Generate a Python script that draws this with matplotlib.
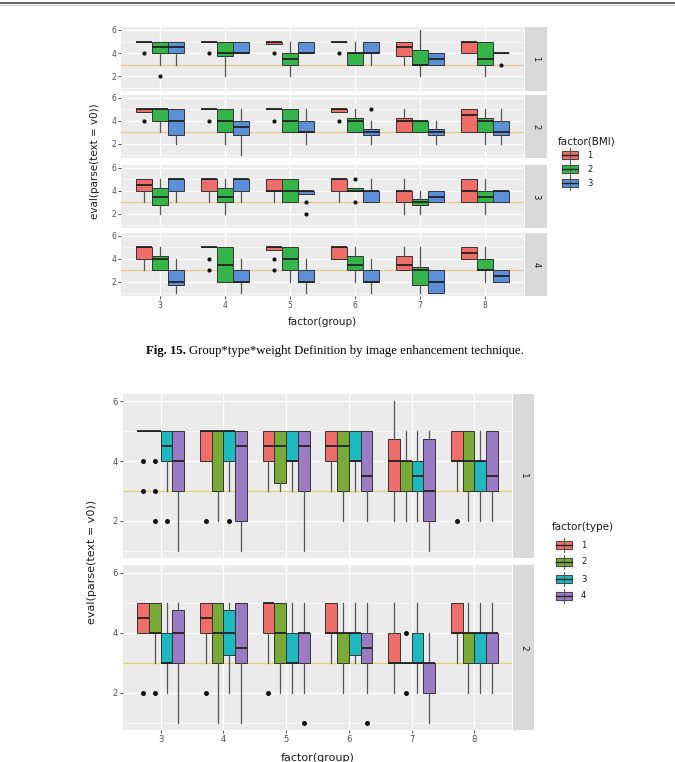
import matplotlib.pyplot as plt
from matplotlib.patches import Rectangle

W, H = 675, 762

groups = ['3', '4', '5', '6', '7', '8']
bmi_levels = ['1', '2', '3']
type_levels = ['1', '2', '3', '4']
bmi_colors = ['#EF6D68', '#35B44A', '#5B8FD8']
type_colors = ['#F06E69', '#79A936', '#1DB9BF', '#9A7BC4']

# one row per group, one tuple per level: (whislo, q1, med, q3, whishi, outliers)
bmi_facet1 = [
    [(5, 5, 5, 5, 5, [4]), (3, 4, 4.5, 5, 5, [2]), (3, 4, 4.5, 5, 5, [])],
    [(5, 5, 5, 5, 5, [4]), (2, 3.75, 4, 5, 5, []), (4, 4, 4, 5, 5, [])],
    [(4.75, 4.75, 5, 5, 5, [4]), (2, 3, 3.5, 4, 5, []), (4, 4, 4, 5, 5, [])],
    [(5, 5, 5, 5, 5, [4]), (3, 3, 4, 4, 5, []), (3, 4, 4, 5, 5, [])],
    [(3, 3.75, 4.5, 5, 5, []), (2, 3, 3, 4.25, 6, []), (3, 3, 3.5, 4, 4, [])],
    [(4, 4, 5, 5, 5, []), (2, 3, 3.5, 5, 5, []), (4, 4, 4, 4, 4, [3])],
]
bmi_facet2 = [
    [(4.75, 4.75, 5, 5, 5, [4]), (3, 4, 5, 5, 5, []), (2, 2.75, 4, 5, 5, [])],
    [(5, 5, 5, 5, 5, [4]), (2, 3, 4, 5, 5, []), (1, 2.75, 3.5, 4, 5, [])],
    [(5, 5, 5, 5, 5, [4]), (3, 3, 4, 5, 5, []), (2, 3, 3, 4, 5, [])],
    [(4.75, 4.75, 5, 5, 5, [4]), (3, 3, 4, 4.25, 5, []), (2, 2.75, 3, 3.25, 4, [5])],
    [(3, 3, 4, 4.25, 5, []), (3, 3, 4, 4, 4, []), (2, 2.75, 3, 3.25, 4, [])],
    [(3, 3, 4.5, 5, 5, []), (2, 3, 4, 4.25, 5, []), (2, 2.75, 3, 4, 5, [])],
]
bmi_facet3 = [
    [(3, 4, 4.5, 5, 5, []), (2, 2.75, 3.5, 4.25, 5, []), (3, 4, 5, 5, 5, [])],
    [(3, 4, 5, 5, 5, []), (2, 3, 3.5, 4.25, 5, []), (3, 4, 5, 5, 5, [])],
    [(3, 4, 4, 5, 5, []), (3, 3, 4, 5, 5, []), (3.75, 3.75, 4, 4, 4, [3, 2])],
    [(3, 4, 5, 5, 5, []), (4, 4, 4, 4.25, 4.25, [5, 3]), (3, 3, 4, 4, 5, [])],
    [(2, 3, 4, 4, 5, []), (2, 2.75, 3, 3.25, 4, []), (3, 3, 3.5, 4, 4, [])],
    [(3, 3, 4, 5, 5, []), (2, 3, 3.5, 4, 5, []), (3, 3, 4, 4, 4, [])],
]
bmi_facet4 = [
    [(3, 4, 5, 5, 5, []), (3, 3, 4, 4.25, 5, []), (1, 1.75, 2, 3, 4, [])],
    [(5, 5, 5, 5, 5, [4, 3]), (2, 2, 3.5, 5, 5, []), (1, 2, 2, 3, 4, [])],
    [(4.75, 4.75, 5, 5, 5, [4, 3]), (2, 3, 4, 5, 5, []), (1, 2, 2, 3, 4, [])],
    [(4, 4, 5, 5, 5, []), (2, 3, 3.5, 4.25, 5, []), (1, 2, 2, 3, 4, [])],
    [(3, 3, 3.5, 4.25, 5, []), (1, 1.75, 3, 3.25, 5, []), (1, 1, 2, 3, 3, [])],
    [(4, 4, 4.5, 5, 5, []), (2, 3, 3, 4, 5, []), (2, 2, 2.5, 3, 3, [])],
]
type_facet1 = [
    [(5, 5, 5, 5, 5, [4, 3]), (5, 5, 5, 5, 5, [4, 3, 2]), (3, 4, 4.5, 5, 5, [2]), (1, 3, 4, 5, 5, [])],
    [(4, 4, 5, 5, 5, [2]), (2, 3, 5, 5, 5, []), (3, 4, 5, 5, 5, [2]), (1, 2, 4.5, 5, 5, [])],
    [(3, 4, 4.5, 5, 5, []), (3, 3.25, 4.5, 5, 5, []), (3, 4, 4, 5, 5, []), (1, 3, 4.5, 5, 5, [])],
    [(3, 4, 4.5, 5, 5, []), (2, 3, 4.5, 5, 5, []), (3, 4, 4, 5, 5, []), (2, 3, 3.5, 5, 5, [])],
    [(2, 3, 4, 4.75, 6, []), (2, 3, 4, 4, 5, []), (2, 3, 3.5, 4, 5, []), (1, 2, 3, 4.75, 5, [])],
    [(3, 4, 4, 5, 5, [2]), (2, 3, 4, 5, 5, []), (2, 3, 4, 4, 5, []), (2, 3, 3.5, 5, 5, [])],
]
type_facet2 = [
    [(4, 4, 4.5, 5, 5, [2]), (3, 4, 4, 5, 5, [2]), (2, 3, 3, 4, 5, []), (1, 3, 4, 4.75, 5, [])],
    [(3, 4, 4.5, 5, 5, [2]), (1, 3, 4, 5, 5, []), (2, 3.25, 4, 4.75, 5, []), (1, 3, 3.5, 5, 5, [])],
    [(3, 4, 5, 5, 5, [2]), (2, 3, 4, 5, 5, []), (2, 3, 3, 4, 5, []), (2, 3, 4, 4, 5, [1])],
    [(3, 4, 4, 5, 5, []), (2, 3, 4, 4, 5, []), (3, 3.25, 4, 4, 5, []), (2, 3, 3.5, 4, 5, [1])],
    [(2, 3, 3, 4, 5, []), (3, 3, 3, 3, 3, [4, 2]), (2, 3, 3, 4, 5, []), (1, 2, 3, 3, 4, [])],
    [(3, 4, 4, 5, 5, []), (2, 3, 4, 4, 5, []), (2, 3, 4, 4, 5, []), (2, 3, 4, 4, 5, [])],
]

fig = plt.figure(figsize=(W / 100, H / 100), dpi=100)


def px_axes(l, t, r, b):
    return fig.add_axes([l / W, 1 - b / H, (r - l) / W, (b - t) / H])


def draw_panel(ax, facet, colors, line_col, bottom, fs, msize):
    n = len(colors)
    w = 0.75 / n
    for k, col in enumerate(colors):
        pos = [g + 1 - 0.375 + w * (k + 0.5) for g in range(len(groups))]
        stats = [dict(whislo=b[k][0], q1=b[k][1], med=b[k][2], q3=b[k][3],
                      whishi=b[k][4], fliers=b[k][5]) for b in facet]
        ax.bxp(stats, positions=pos, widths=w, patch_artist=True, showcaps=False,
               manage_ticks=False,
               boxprops=dict(facecolor=col, edgecolor='#333333', linewidth=0.7),
               medianprops=dict(color='#222222', linewidth=1.3),
               whiskerprops=dict(color='#555555', linewidth=0.9),
               flierprops=dict(marker='o', markerfacecolor='#111111',
                               markeredgecolor='none', markersize=msize))
    ax.axhline(3, color=line_col, lw=0.9, zorder=1.5)
    ax.set_xlim(0.4, 6.6)
    ax.set_ylim(0.75, 6.25)
    ax.set_facecolor('#EBEBEB')
    ax.set_xticks(range(1, 7))
    ax.set_xticklabels(groups)
    ax.set_yticks([2, 4, 6])
    ax.set_yticks([1, 3, 5], minor=True)
    ax.grid(True, which='major', color='white', lw=0.9)
    ax.grid(True, which='minor', axis='y', color='white', lw=0.45)
    ax.set_axisbelow(True)
    for s in ax.spines.values():
        s.set_visible(False)
    ax.tick_params(which='minor', length=0)
    ax.tick_params(which='major', length=2, width=0.6, color='#333333',
                   labelcolor='#4D4D4D', labelsize=fs, pad=1.5)
    if not bottom:
        ax.tick_params(axis='x', bottom=False, labelbottom=False)


def draw_strip(l, t, r, b, label, fs):
    sa = px_axes(l, t, r, b)
    sa.set_facecolor('#D9D9D9')
    sa.set_xticks([])
    sa.set_yticks([])
    for s in sa.spines.values():
        s.set_visible(False)
    sa.text(0.5, 0.5, label, rotation=-90, ha='center', va='center',
            transform=sa.transAxes, fontsize=fs, color='#1A1A1A')


# figure 1: BMI
rows1 = [(27, 91), (95, 158), (165, 228), (233, 296)]
for i, (facet, (t, b)) in enumerate(zip([bmi_facet1, bmi_facet2, bmi_facet3, bmi_facet4], rows1)):
    ax = px_axes(121, t, 524, b)
    draw_panel(ax, facet, bmi_colors, '#EEC585', i == 3, 5.5, 3.0)
    draw_strip(525, t, 547, b, str(i + 1), 6)

# figure 2: type
rows2 = [(394, 558), (565, 730)]
for i, (facet, (t, b)) in enumerate(zip([type_facet1, type_facet2], rows2)):
    ax = px_axes(123, t, 512, b)
    draw_panel(ax, facet, type_colors, '#E3CF6B', i == 1, 6, 3.6)
    draw_strip(513, t, 534, b, str(i + 1), 6.5)

# overlay for titles, legends and caption
ov = fig.add_axes([0, 0, 1, 1])
ov.set_xlim(0, W)
ov.set_ylim(H, 0)
ov.axis('off')
ov.patch.set_visible(False)

ov.plot([0, W], [3, 3], color='#666666', lw=1.5)
ov.plot([0, W], [5, 5], color='#C8C8C8', lw=0.7)

ov.text(322, 322, 'factor(group)', ha='center', va='center', fontsize=7.5, color='#1A1A1A')
ov.text(95, 161, 'eval(parse(text = v0))', rotation=90, ha='center', va='center',
        fontsize=7.5, color='#1A1A1A')
ov.text(318, 753, 'factor(group)', ha='center', va='top', fontsize=8, color='#1A1A1A')
ov.text(92, 562, 'eval(parse(text = v0))', rotation=90, ha='center', va='center',
        fontsize=8, color='#1A1A1A')


def draw_legend(x, ys, title, title_y, levels, colors, fs):
    ov.text(x - 12, title_y, title, ha='left', va='center', fontsize=fs, color='#1A1A1A')
    for yc, lev, col in zip(ys, levels, colors):
        ov.add_patch(Rectangle((x - 9, yc - 7), 18, 14, facecolor='#F2F2F2', edgecolor='none'))
        ov.plot([x, x], [yc - 7, yc + 7], color='#555555', lw=0.7)
        ov.add_patch(Rectangle((x - 8, yc - 4), 16, 8, facecolor=col, edgecolor='#333333', lw=0.6))
        ov.plot([x - 8, x + 8], [yc, yc], color='#222222', lw=1.0)
        ov.text(x + 17, yc, lev, ha='left', va='center', fontsize=fs - 1.5, color='#1A1A1A')


draw_legend(570, [155, 169, 183], 'factor(BMI)', 141, bmi_levels, bmi_colors, 7.5)
draw_legend(564, [545, 562, 579, 596], 'factor(type)', 527, type_levels, type_colors, 7.5)

# caption
renderer = fig.canvas.get_renderer()
c1 = ov.text(146, 351, 'Fig. 15.', fontweight='bold', fontsize=9.2,
             family='Liberation Serif', ha='left', va='center')
bb = c1.get_window_extent(renderer)
ov.text(146 + bb.width + 3, 351, 'Group*type*weight Definition by image enhancement technique.',
        fontsize=9.2, family='Liberation Serif', ha='left', va='center')

fig.savefig('out.png', dpi=100, facecolor='white')
